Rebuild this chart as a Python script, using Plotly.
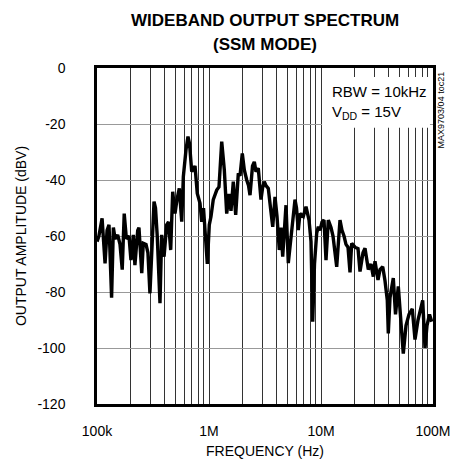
import plotly.graph_objects as go

# Frequency (kHz) and output amplitude (dBV)
freq_khz = [100, 104, 111, 118, 123, 128, 135, 140, 145, 153, 160.5, 168, 175, 183, 193, 201, 211, 218, 231, 237,
            251, 259, 274, 285, 297, 323, 333, 345, 365, 378, 397, 419, 435, 455, 474, 497, 518, 543, 571, 590,
            623, 649, 670, 701, 750, 786, 831, 861, 893, 940, 966, 1006, 1042, 1092, 1172, 1228, 1299, 1370, 1439, 1509,
            1572, 1648, 1731, 1827, 1891, 1983, 2067, 2171, 2253, 2324, 2446, 2538, 2628, 2755, 2912, 3004, 3117, 3228, 3384, 3542,
            3707, 3886, 4048, 4243, 4395, 4550, 4870, 5105, 5475, 5657, 5859, 6043, 6270, 6492, 6950, 7346, 7815, 8143, 8433, 8750,
            9154, 9460, 9797, 10206, 10636, 11080, 11620, 12284, 12797, 13810, 14777, 15400, 16050, 16720, 17420, 18157, 18800, 20120, 21400, 22300,
            23710, 24716, 26447, 27950, 29310, 30350, 32280, 33640, 35560, 37275, 39080, 39890, 41310, 44210, 46270, 49010, 51270, 54290, 57410, 61050,
            65340, 69080, 73460, 80910, 84850, 88400, 93060, 97360]
amp_dbv = [-62, -60, -53.7, -69.8, -58, -56, -82, -57, -61, -59.6, -63, -72, -52, -61, -60, -68.6, -59.6, -70.4, -58, -57,
           -73.3, -62.6, -63, -66, -80.5, -47.7, -50, -60, -84, -59.6, -67.4, -56, -55, -65, -44.2, -52, -47, -43, -54.9, -38.8,
           -29.3, -24.5, -27, -37, -35, -44.8, -48.3, -54.9, -50, -63.8, -70, -56, -53, -47, -43.6, -42.5, -26.3, -36.4, -52, -45,
           -51, -40.6, -52.5, -37.6, -38.5, -30.5, -36.4, -40, -42, -45.4, -35, -33.5, -37, -35.8, -47, -43, -40.6, -42, -43, -50,
           -56.7, -46, -53, -65, -57, -67.4, -49, -69.7, -56.7, -52, -47, -50, -57.9, -52, -53, -49.5, -54.3, -62, -90.6, -70,
           -59, -56.7, -58, -55, -54.3, -68.6, -54.3, -57, -60, -71, -54.3, -58, -60, -63, -64, -73, -62.6, -64, -64.5, -72.7,
           -66, -64.4, -72, -70, -74.5, -69, -75.7, -72, -71, -76, -83, -94.8, -82, -75, -88, -78, -88, -102, -92, -88,
           -86, -97, -90, -83, -100, -92, -88, -90.6]

freq_hz = [f * 1000 for f in freq_khz]

x_tickvals = [1e5, 1e6, 1e7, 1e8]
x_ticktext = ["100k", "1M", "10M", "100M"]
x_minorvals = [m * 10 ** d for d in range(5, 8) for m in range(2, 10)]
y_tickvals = [0, -20, -40, -60, -80, -100, -120]
y_ticktext = ["0", "-20", "-40", "-60", "-80", "-100", "-120"]
title_lines = ["WIDEBAND OUTPUT SPECTRUM", "(SSM MODE)"]

FONT = "Liberation Sans, Arial, sans-serif"

fig = go.Figure()
fig.add_trace(go.Scatter(x=freq_hz, y=amp_dbv, mode="lines",
                         line=dict(color="black", width=3.4), hoverinfo="skip"))

# page body has an 8px margin: figure is 456x462 drawn at (8, 8)
fig.update_layout(
    width=456, height=462,
    margin=dict(l=89, r=31, t=60, b=66),
    paper_bgcolor="white", plot_bgcolor="white",
    font=dict(family=FONT, size=14, color="black"),
    showlegend=False,
)

fig.update_xaxes(
    type="log", range=[5, 8], automargin=False,
    tickvals=x_tickvals, ticktext=x_ticktext,
    ticks="", showgrid=True, gridcolor="#333", gridwidth=1,
    minor=dict(tickvals=x_minorvals, showgrid=True, gridcolor="#333", gridwidth=1, ticks=""),
    showline=True, linecolor="black", linewidth=2.5, mirror=True,
    zeroline=False, ticklabelstandoff=12,
    title=dict(text="FREQUENCY (Hz)", standoff=9, font=dict(size=14)),
)
fig.update_yaxes(
    range=[-120, 0], automargin=False,
    tickvals=y_tickvals, ticktext=y_ticktext,
    ticks="", showgrid=True, gridcolor="#999", gridwidth=1,
    showline=True, linecolor="black", linewidth=2.5, mirror=True,
    zeroline=False, ticklabelstandoff=26,
    title=dict(text="OUTPUT AMPLITUDE (dBV)", standoff=8, font=dict(size=14)),
)

# title as two centred lines
for line_text, ypos in zip(title_lines, [1.140, 1.071]):
    fig.add_annotation(xref="paper", yref="paper", x=0.5, y=ypos,
                       xanchor="center", yanchor="middle", showarrow=False,
                       text="<b>" + line_text + "</b>",
                       font=dict(family=FONT, size=17, color="black"))

# white box behind the conditions note
fig.add_shape(type="rect", xref="paper", yref="paper",
              x0=0.670, x1=0.991, y0=0.822, y1=0.973,
              fillcolor="white", line=dict(width=0), layer="above")
fig.add_annotation(xref="paper", yref="paper", x=0.693, y=0.962,
                   xanchor="left", yanchor="top", align="left", showarrow=False,
                   text="RBW = 10kHz<br>V<sub>DD</sub> = 15V",
                   font=dict(family=FONT, size=15, color="black"))
fig.add_annotation(xref="paper", yref="paper", x=1.025, y=0.875,
                   xanchor="center", yanchor="middle", showarrow=False,
                   textangle=-90, text="MAX9703/04 toc21",
                   font=dict(family=FONT, size=9, color="black"))

fig.write_html("out.html", config={"displayModeBar": False})
